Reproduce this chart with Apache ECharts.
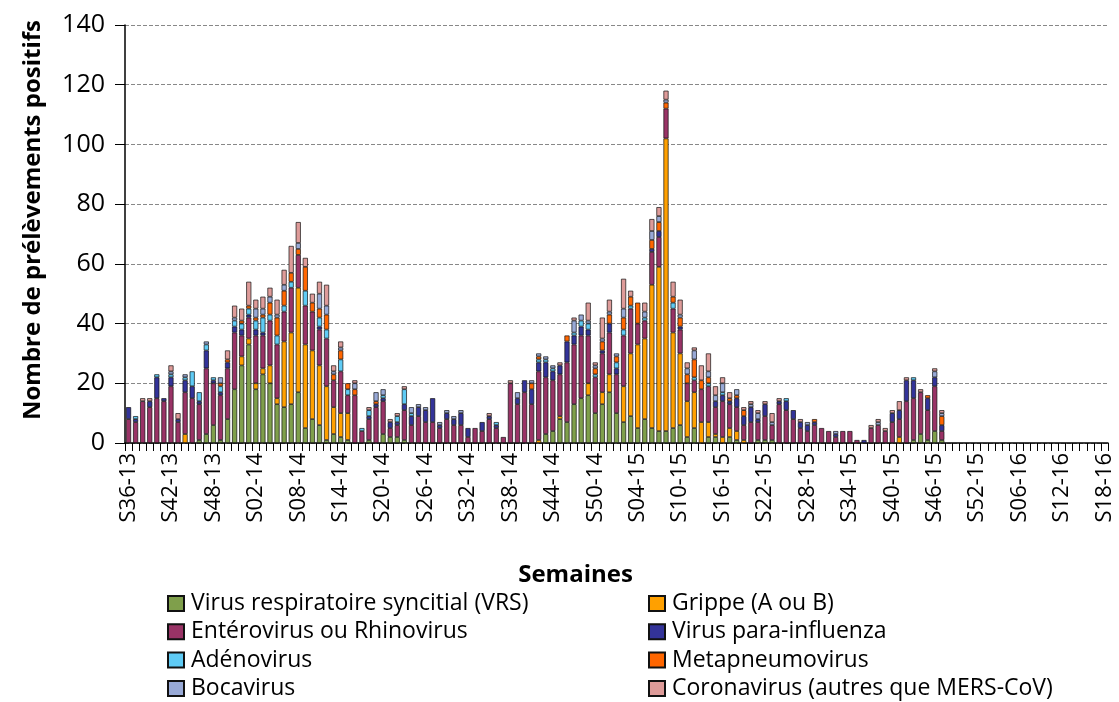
<!DOCTYPE html>
<html>
<head>
<meta charset="utf-8">
<script src="https://cdn.jsdelivr.net/npm/echarts@6/dist/echarts.min.js"></script>
<style>
  html, body { margin: 0; padding: 0; background: #fff; }
  #main { width: 1119px; height: 702px; }
</style>
</head>
<body>
<div id="main"></div>
<script>
// semaines S36-13 .. S18-16 (52 semaines par an)
var weeks = [];
var periods = [[2013, 36, 52], [2014, 1, 52], [2015, 1, 52], [2016, 1, 18]];
periods.forEach(function (p) {
  for (var w = p[1]; w <= p[2]; w++) {
    weeks.push('S' + (w < 10 ? '0' + w : w) + '-' + String(p[0]).slice(2));
  }
});

var vrs = [0,0,0,0,0,0,0,0,0,0,1,3,6,1,8,18,26,33,18,23,20,13,12,13,17,5,8,6,1,3,2,1,0,0,1,0,3,2,2,1,
  0,0,0,0,0,0,0,0,0,0,0,0,0,0,0,0,0,0,0,3,4,8,7,13,15,16,10,13,17,10,7,9,5,8,5,4,4,5,6,2,
  5,0,2,2,0,2,1,0,0,1,1,1,0,0,0,0,0,0,0,0,0,0,0,0,0,0,0,0,0,0,0,1,3,1,4,1];
var grippe = [0,0,0,0,0,0,0,0,3,0,0,0,0,0,0,0,3,2,2,2,6,2,22,24,35,28,23,20,18,9,8,9,0,0,0,0,0,0,0,0,
  0,0,0,0,0,0,0,0,0,0,0,0,0,0,0,0,0,0,1,0,0,1,0,0,0,4,0,4,6,0,12,21,28,27,48,55,98,32,24,12,
  12,7,5,1,2,3,3,1,0,0,0,0,0,0,0,0,0,0,0,0,0,0,0,0,0,0,0,0,0,2,0,0,0,0,0,0];
var entero = [8,7,14,12,15,14,19,7,14,15,12,22,14,15,17,19,7,7,16,11,15,18,10,15,11,13,13,12,16,9,14,6,16,4,7,12,11,3,4,10,
  6,9,7,7,5,8,6,6,2,5,4,8,5,2,20,13,17,13,23,19,17,14,20,20,21,16,12,13,14,13,17,15,7,6,11,10,10,8,8,6,
  4,11,12,9,12,8,8,5,7,6,8,5,13,11,8,5,4,6,5,4,2,4,4,1,0,5,6,4,7,6,14,14,14,10,15,3];
var para = [4,1,0,2,7,1,3,1,4,4,1,6,1,1,2,2,2,1,2,1,0,0,0,0,0,0,0,1,0,0,0,0,0,0,1,1,1,2,1,2,
  3,3,4,8,1,2,2,4,3,0,3,1,1,0,0,2,4,5,3,5,3,3,7,3,3,2,0,1,3,2,0,0,0,0,1,2,0,0,1,0,
  0,0,0,2,2,1,3,3,5,1,4,0,1,3,3,2,2,1,0,0,1,0,0,0,1,0,0,0,3,3,7,6,0,4,3,2];
var adeno = [0,1,0,0,1,0,1,0,1,5,3,2,1,2,0,2,2,2,3,5,2,3,2,2,0,5,0,3,3,0,4,2,0,1,2,0,1,0,2,5,
  1,0,0,0,0,0,0,0,0,0,0,0,1,0,0,0,0,0,1,1,1,0,0,1,2,2,1,0,0,2,2,1,0,1,0,0,0,2,0,0,
  1,0,1,0,1,0,0,0,0,0,0,0,0,1,0,0,0,0,0,0,0,0,0,0,0,0,0,0,0,0,0,1,0,0,0,0];
var metapneumo = [0,0,0,0,0,0,0,0,0,0,0,0,0,1,1,0,1,1,1,1,4,6,5,3,2,8,3,3,5,2,3,2,2,0,0,1,0,0,0,0,
  0,0,0,0,0,0,0,0,0,0,0,0,0,0,0,0,0,2,1,0,0,0,2,0,0,0,2,3,3,2,4,3,7,0,3,3,2,2,3,3,
  6,3,2,0,0,1,1,2,0,0,0,0,0,0,0,0,0,1,0,0,0,0,0,0,0,0,0,0,0,0,0,0,0,1,0,3];
var boca = [0,0,0,0,0,0,1,0,1,0,0,1,0,2,0,1,0,0,3,2,2,1,2,0,2,0,0,5,3,1,1,0,2,0,0,3,2,0,0,0,
  2,1,1,0,1,1,1,1,0,0,0,0,0,0,0,2,0,1,1,1,1,0,0,4,2,1,1,1,1,1,3,0,0,2,3,2,1,0,1,2,
  3,0,2,2,3,0,2,0,1,2,0,1,0,0,0,0,1,0,0,0,1,0,0,0,0,0,1,0,0,0,0,0,0,0,2,1];
var corona = [0,0,1,1,0,0,2,2,0,0,0,0,0,0,3,4,4,8,3,4,3,5,5,9,7,3,3,4,7,2,2,0,1,0,1,0,0,1,1,1,
  0,0,0,0,0,0,0,0,0,0,0,1,0,0,1,0,0,0,0,0,0,1,0,1,0,6,1,7,4,0,10,2,0,3,4,3,3,5,5,2,
  1,5,6,3,2,2,0,1,1,1,1,3,1,0,0,1,0,0,0,0,0,0,0,0,0,1,1,1,1,3,1,0,1,0,1,1];

var names = ['Virus respiratoire syncitial (VRS)', 'Grippe (A ou B)', 'Entérovirus ou Rhinovirus',
  'Virus para-influenza', 'Adénovirus', 'Metapneumovirus', 'Bocavirus', 'Coronavirus (autres que MERS-CoV)'];
var colors = ['#7F9F4B', '#FFA000', '#993366', '#333399', '#5FCBF5', '#FF6600', '#98A9D6', '#DE9B99'];
var values = [vrs, grippe, entero, para, adeno, metapneumo, boca, corona];

var font = "'Open Sans', 'DejaVu Sans', sans-serif";

var series = values.map(function (arr, k) {
  return {
    name: names[k],
    type: 'bar',
    stack: 'total',
    barWidth: '72%',
    data: arr.map(function (v) { return v === 0 ? '-' : v; }),
    itemStyle: { color: colors[k], borderColor: '#111', borderWidth: 0.7 }
  };
});

var legendText = { fontFamily: font, fontSize: 23, color: '#000', lineHeight: 23, padding: [0, 0, 0, 2] };
var legendBase = {
  orient: 'vertical', top: 592, padding: 0,
  itemWidth: 16, itemHeight: 15, itemGap: 5.3,
  icon: 'rect', textStyle: legendText
};

var myChart = echarts.init(document.getElementById('main'));
var option = {
  animation: false,
  textStyle: { fontFamily: font },
  grid: { left: 125, right: 11, top: 25, bottom: 259 },
  legend: [
    Object.assign({ data: [names[0], names[2], names[4], names[6]], left: 167 }, legendBase),
    Object.assign({ data: [names[1], names[3], names[5], names[7]], left: 648 }, legendBase)
  ],
  xAxis: {
    type: 'category',
    data: weeks,
    name: 'Semaines',
    nameLocation: 'middle',
    nameGap: 120,
    nameTextStyle: { fontFamily: font, fontSize: 24, fontWeight: 'bold', color: '#000', padding: [0, 82, 0, 0] },
    axisLine: { lineStyle: { color: '#000', width: 1.5 } },
    axisTick: { show: true, interval: 0, length: 8, lineStyle: { color: '#000' } },
    axisLabel: { interval: 5, rotate: 90, fontSize: 22, color: '#000', margin: 10, fontFamily: font }
  },
  yAxis: {
    type: 'value',
    min: 0, max: 140, interval: 20,
    name: 'Nombre de prélèvements positifs',
    nameLocation: 'middle',
    nameGap: 80,
    nameTextStyle: { fontFamily: font, fontSize: 24, fontWeight: 'bold', color: '#000', padding: [0, 0, 0, 28] },
    axisLine: { show: true, lineStyle: { color: '#000', width: 1.5 } },
    axisTick: { show: true, length: 10, lineStyle: { color: '#000' } },
    axisLabel: { fontSize: 25, color: '#000', margin: 20, fontFamily: font },
    splitLine: { lineStyle: { color: '#888', type: 'dashed', width: 1 } }
  },
  series: series
};
myChart.setOption(option);
</script>
</body>
</html>
